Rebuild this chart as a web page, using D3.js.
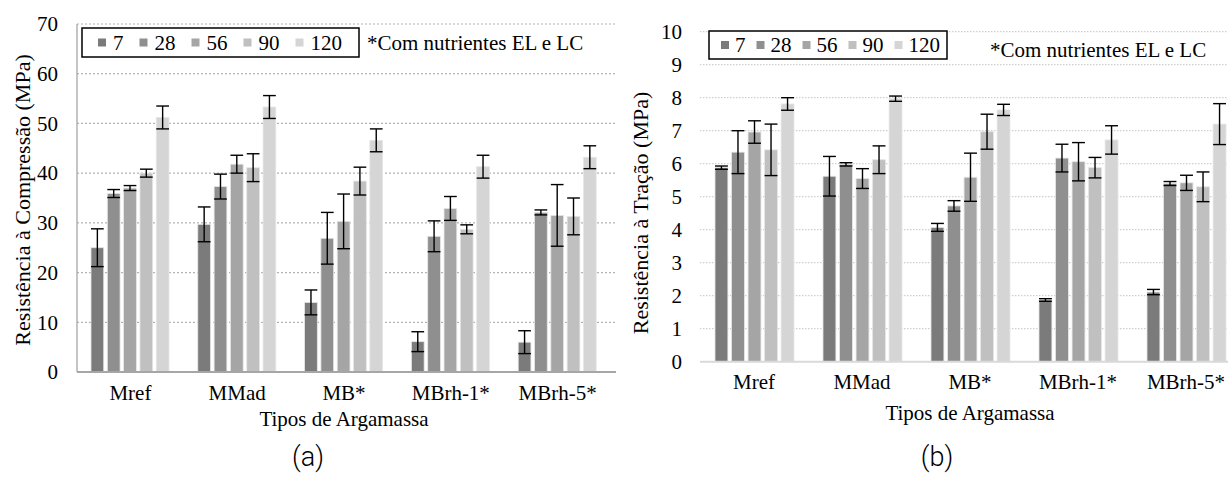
<!DOCTYPE html>
<html>
<head>
<meta charset="utf-8">
<script src="https://cdn.jsdelivr.net/npm/d3@7"></script>
<style>
  body { margin: 0; background: #fff; }
  svg { display: block; }
  text { font-family: "Liberation Serif", "Times New Roman", serif; fill: #000; }
</style>
</head>
<body>
<svg id="chart" width="1228" height="492"></svg>
<script>
// categories and series
var categories = ['Mref', 'MMad', 'MB*', 'MBrh-1*', 'MBrh-5*'];
var ages = ['7', '28', '56', '90', '120'];
var barColors = ['#7b7b7b', '#8f8f8f', '#a5a5a5', '#c0c0c0', '#d5d5d5'];

// (a) compressive strength, MPa, one array per age
var comp7 = [25.0, 29.7, 14.0, 6.1, 6.0];
var comp28 = [35.9, 37.3, 26.9, 27.3, 32.1];
var comp56 = [37.0, 41.8, 30.3, 32.9, 31.5];
var comp90 = [40.0, 41.1, 38.4, 28.7, 31.3];
var comp120 = [51.2, 53.3, 46.6, 41.3, 43.2];
var compErr7 = [3.8, 3.5, 2.5, 2.0, 2.3];
var compErr28 = [0.8, 2.5, 5.2, 3.1, 0.5];
var compErr56 = [0.5, 1.8, 5.5, 2.4, 6.2];
var compErr90 = [0.8, 2.8, 2.8, 0.9, 3.7];
var compErr120 = [2.3, 2.3, 2.3, 2.3, 2.3];
var compTicks = [0, 10, 20, 30, 40, 50, 60, 70];

// (b) tensile strength, MPa
var tens7 = [5.88, 5.62, 4.07, 1.87, 2.11];
var tens28 = [6.35, 5.98, 4.72, 6.17, 5.40];
var tens56 = [6.96, 5.55, 5.59, 6.06, 5.42];
var tens90 = [6.42, 6.12, 6.97, 5.88, 5.30];
var tens120 = [7.81, 7.97, 7.63, 6.72, 7.20];
var tensErr7 = [0.05, 0.60, 0.12, 0.04, 0.08];
var tensErr28 = [0.65, 0.05, 0.16, 0.42, 0.06];
var tensErr56 = [0.34, 0.30, 0.73, 0.58, 0.23];
var tensErr90 = [0.78, 0.42, 0.53, 0.31, 0.45];
var tensErr120 = [0.19, 0.08, 0.17, 0.43, 0.62];
var tensTicks = [0, 1, 2, 3, 4, 5, 6, 7, 8, 9, 10];

var note = '*Com nutrientes EL e LC';
var xTitle = 'Tipos de Argamassa';

var svg = d3.select('#chart');
svg.append('rect').attr('width', 1228).attr('height', 492).attr('fill', '#fff');

function drawPanel(o) {
  var g = svg.append('g');
  var x0 = d3.scaleBand().domain(categories).range([o.left, o.right]);
  var x1 = d3.scaleBand().domain(ages).range([o.groupPad, o.groupPad + o.groupWidth]).paddingInner(0.22);
  var y = d3.scaleLinear().domain([0, d3.max(o.ticks)]).range([o.bottom, o.top]);

  // grid
  g.append('g').selectAll('line').data(o.ticks.filter(function(d) { return d > 0; }))
    .enter().append('line')
    .attr('x1', o.left).attr('x2', o.gridEnd)
    .attr('y1', function(d) { return y(d); }).attr('y2', function(d) { return y(d); })
    .attr('stroke', o.gridColor).attr('stroke-width', o.gridWidth)
    .attr('stroke-dasharray', o.gridDash);

  // tick labels
  var yAxis = d3.axisLeft(y).tickValues(o.ticks).tickSize(0).tickPadding(0);
  var ya = g.append('g').attr('transform', 'translate(' + o.tickX + ',0)').call(yAxis);
  ya.select('.domain').remove();
  ya.selectAll('text').attr('font-size', 21).attr('font-family', '"Liberation Serif", serif').attr('fill', '#000');

  if (o.axisLine) {
    g.append('line').attr('x1', o.left).attr('x2', o.left).attr('y1', y(d3.max(o.ticks))).attr('y2', o.bottom)
      .attr('stroke', '#a6a6a6').attr('stroke-width', 1.3);
  }

  // bars
  var rows = categories.map(function(c, i) {
    return { cat: c, vals: o.series.map(function(s, j) { return { age: ages[j], v: s[i], e: o.errs[j][i], k: j }; }) };
  });
  var grp = g.selectAll('.grp').data(rows).enter().append('g')
    .attr('transform', function(d) { return 'translate(' + x0(d.cat) + ',0)'; });
  grp.selectAll('rect').data(function(d) { return d.vals; }).enter().append('rect')
    .attr('x', function(d) { return x1(d.age); })
    .attr('width', x1.bandwidth())
    .attr('y', function(d) { return y(d.v); })
    .attr('height', function(d) { return o.bottom - y(d.v); })
    .attr('fill', function(d) { return barColors[d.k]; })
    .attr('stroke', '#e6e6e6').attr('stroke-width', 0.8);

  // baseline
  g.append('line').attr('x1', o.left).attr('x2', o.gridEnd).attr('y1', o.bottom).attr('y2', o.bottom)
    .attr('stroke', o.baseColor).attr('stroke-width', 2);

  // error bars
  var eb = grp.selectAll('.eb').data(function(d) { return d.vals; }).enter().append('g')
    .attr('stroke', '#000').attr('stroke-width', 1.4);
  var cx = function(d) { return x1(d.age) + x1.bandwidth() / 2; };
  var cap = x1.bandwidth() / 2;
  eb.append('line').attr('x1', cx).attr('x2', cx)
    .attr('y1', function(d) { return y(d.v + d.e); }).attr('y2', function(d) { return y(d.v - d.e); });
  eb.append('line').attr('x1', function(d) { return cx(d) - cap; }).attr('x2', function(d) { return cx(d) + cap; })
    .attr('y1', function(d) { return y(d.v + d.e); }).attr('y2', function(d) { return y(d.v + d.e); });
  eb.append('line').attr('x1', function(d) { return cx(d) - cap; }).attr('x2', function(d) { return cx(d) + cap; })
    .attr('y1', function(d) { return y(d.v - d.e); }).attr('y2', function(d) { return y(d.v - d.e); });

  // category labels
  g.selectAll('.cat').data(categories).enter().append('text')
    .attr('x', function(d) { return x0(d) + x0.bandwidth() / 2; })
    .attr('y', o.catY).attr('text-anchor', 'middle').attr('font-size', 21)
    .text(function(d) { return d; });

  g.append('text').attr('x', (o.left + o.right) / 2).attr('y', o.titleY)
    .attr('text-anchor', 'middle').attr('font-size', 21).text(xTitle);

  g.append('text').attr('transform', 'translate(' + o.yTitleX + ',' + o.yTitleY + ')rotate(-90)')
    .attr('text-anchor', 'middle').attr('font-size', 22).text(o.yTitle);

  // legend
  var lg = g.append('g');
  var lx = o.legend.x + o.legend.pad;
  ages.forEach(function(a, j) {
    lg.append('rect').attr('x', lx).attr('y', o.legend.y + o.legend.h / 2 - 4).attr('width', 8).attr('height', 8)
      .attr('fill', barColors[j]);
    var t = lg.append('text').attr('x', lx + 8 + o.legend.gap).attr('y', o.legend.y + o.legend.h / 2 + 7)
      .attr('font-size', 21).text(a);
    lx += 8 + o.legend.gap + t.node().getComputedTextLength() + o.legend.after;
  });
  lg.insert('rect', ':first-child').attr('x', o.legend.x).attr('y', o.legend.y)
    .attr('width', o.legend.w).attr('height', o.legend.h)
    .attr('fill', '#fff').attr('stroke', '#000').attr('stroke-width', 1.5);

  g.append('text').attr('x', o.noteX).attr('y', o.noteY).attr('font-size', 21).text(note);

  g.append('text').attr('x', o.tagX).attr('y', 466).attr('text-anchor', 'middle')
    .attr('font-family', 'Roboto, sans-serif').attr('font-weight', 300).attr('font-size', 27)
    .style('font-family', 'Roboto, sans-serif').text(o.tag);
}

drawPanel({
  series: [comp7, comp28, comp56, comp90, comp120],
  errs: [compErr7, compErr28, compErr56, compErr90, compErr120],
  ticks: compTicks,
  left: 77, right: 611, gridEnd: 616, top: 24, bottom: 372,
  groupPad: 14, groupWidth: 78,
  gridColor: '#b3b3b3', gridWidth: 1.2, gridDash: '2,2', baseColor: '#a6a6a6', axisLine: true,
  tickX: 58, catY: 400, titleY: 426,
  yTitle: 'Resistência à Compressão (MPa)', yTitleX: 30, yTitleY: 200,
  legend: { x: 82, y: 28, w: 277, h: 29, pad: 16, gap: 7, after: 16 },
  noteX: 367, noteY: 50,
  tag: '(a)', tagX: 308
});

drawPanel({
  series: [tens7, tens28, tens56, tens90, tens120],
  errs: [tensErr7, tensErr28, tensErr56, tensErr90, tensErr120],
  ticks: tensTicks,
  left: 700, right: 1240, gridEnd: 1240, top: 31.7, bottom: 361.7,
  groupPad: 15, groupWidth: 79,
  gridColor: '#c4c4c4', gridWidth: 1, gridDash: '1.5,1.5', baseColor: '#d9d9d9', axisLine: false,
  tickX: 682, catY: 389, titleY: 420,
  yTitle: 'Resistência à Tração (MPa)', yTitleX: 648, yTitleY: 213,
  legend: { x: 709, y: 31, w: 238, h: 28, pad: 12, gap: 6, after: 11 },
  noteX: 990, noteY: 57,
  tag: '(b)', tagX: 937
});
</script>
</body>
</html>
